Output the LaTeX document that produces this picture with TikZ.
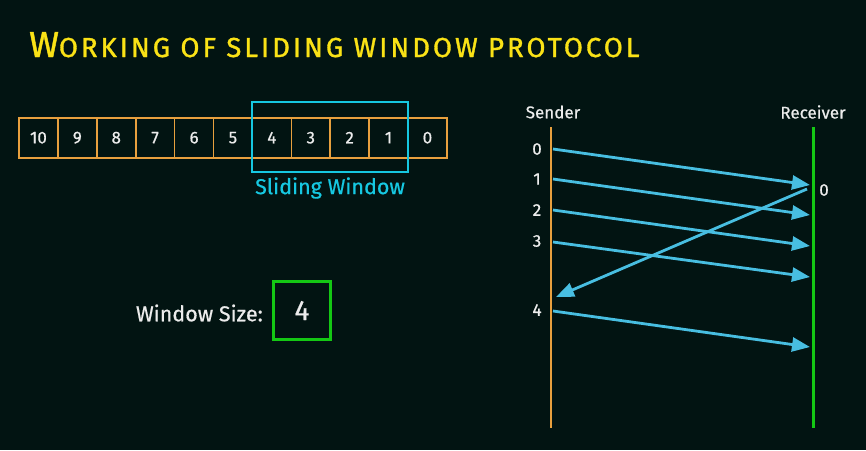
\documentclass[tikz,border=0pt]{standalone}
\usepackage{fontspec}
\setmainfont{Fira Sans}[FakeBold=0.6]
\newfontfamily\titlefont{Fira Sans}[FakeBold=1.2,LetterSpace=11]
\usetikzlibrary{arrows.meta}
\definecolor{bgc}{RGB}{2,20,18}
\definecolor{cellc}{RGB}{232,160,62}
\definecolor{winc}{RGB}{22,200,225}
\definecolor{arrc}{RGB}{72,190,225}
\definecolor{grnc}{RGB}{20,200,20}
\definecolor{txtc}{RGB}{236,236,236}
\definecolor{ylw}{RGB}{250,226,22}
\tikzset{
  cellbox/.style={draw=cellc,line width=1.6pt,minimum width=38.9pt,minimum height=40pt,inner sep=0pt,text=txtc,font=\fontsize{17}{17}\selectfont},
  lbl/.style={text=txtc,inner sep=0pt,font=\fontsize{17}{17}\selectfont},
  msg/.style={draw=arrc,line width=2.8pt,-{Triangle[length=18pt,width=14pt]}},
}
\begin{document}
\begin{tikzpicture}[x=1pt,y=-1pt]
\fill[bgc] (0,0) rectangle (866,450);
\useasboundingbox (0,0) rectangle (866,450);
% title
\node[anchor=base west,inner sep=0pt,text=ylw] (title) at (29,57)
  {\titlefont\fontsize{36}{36}\selectfont W\fontsize{27.5}{27.5}\selectfont ORKING OF SLIDING WINDOW PROTOCOL};
% cells
\foreach \v [count=\i from 0] in {10,9,8,7,6,5,4,3,2,1,0}{
  \node[cellbox] (c\v) at ({19+38.9*(\i+0.5)},137.7) {\v};
}
% sliding window
\node[draw=winc,line width=2.5pt,minimum width=156pt,minimum height=70pt,inner sep=0pt] (win) at (330,137) {};
\node[text=winc,inner sep=0pt,font=\fontsize{21.5}{21.5}\selectfont] (wlab) at (330,188) {Sliding Window};
% window size
\node[lbl,anchor=east,font=\fontsize{21.5}{21.5}\selectfont] (wsz) at (263,313) {Window Size:};
\node[draw=grnc,line width=2.2pt,minimum width=57pt,minimum height=58pt,inner sep=0pt,text=txtc,font=\fontsize{28}{28}\selectfont] (four) at (302,310.5) {4};
% sender / receiver
\node[lbl] (snd) at (553,112) {Sender};
\node[lbl] (rcv) at (813,112) {Receiver};
\coordinate (stop) at (551,127);
\coordinate (sbot) at (551,428);
\coordinate (rtop) at (813,127);
\coordinate (rbot) at (813,428);
\draw[cellc,line width=2.5pt] (stop) -- (sbot);
\draw[grnc,line width=3pt] (rtop) -- (rbot);
% sequence labels
\node[lbl] (n0) at (537,149) {0};
\node[lbl] (n1) at (537,179) {1};
\node[lbl] (n2) at (537,210) {2};
\node[lbl] (n3) at (537,241) {3};
\node[lbl] (n4) at (537,310) {4};
\node[lbl] (a0) at (824,190) {0};
% endpoints
\coordinate (s0) at (553,149);
\coordinate (s1) at (553,179);
\coordinate (s2) at (553,210);
\coordinate (s3) at (553,242);
\coordinate (s4) at (553,311);
\coordinate (r0) at (810,185);
\coordinate (r1) at (810,215);
\coordinate (r2) at (810,246);
\coordinate (r3) at (810,277);
\coordinate (r4) at (810,347);
\coordinate (ackS) at (807,189);
\coordinate (ackE) at (556,297);
\draw[msg] (s0) -- (r0);
\draw[msg] (s1) -- (r1);
\draw[msg] (s2) -- (r2);
\draw[msg] (s3) -- (r3);
\draw[msg] (s4) -- (r4);
\draw[msg] (ackS) -- (ackE);
\end{tikzpicture}
\end{document}
